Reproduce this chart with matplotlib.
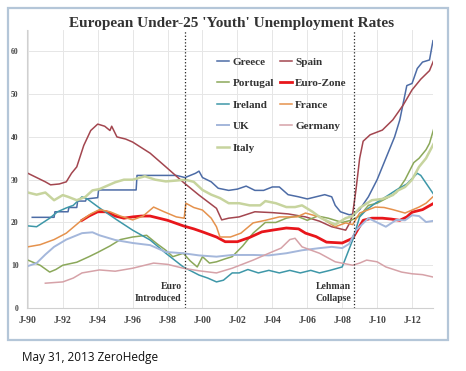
import matplotlib
matplotlib.use("Agg")
import matplotlib.pyplot as plt
from matplotlib.patches import Rectangle

# readings, decimal years / percent
greece_t = [1990.25, 1991.5, 1991.55, 1992.3, 1992.35, 1992.8, 1992.85, 1993.3, 1993.35, 1994.0, 1994.05,
            1996.2, 1996.25, 1998.5, 1999.0, 1999.3, 1999.6, 1999.8, 2000.0, 2000.5, 2000.9, 2001.5, 2002.0,
            2002.5, 2003.0, 2003.5, 2004.0, 2004.4, 2004.9, 2005.5, 2006.0, 2006.5, 2007.0, 2007.4, 2007.6,
            2007.9, 2008.4, 2008.7, 2009.0, 2009.5, 2010.0, 2010.5, 2011.0, 2011.3, 2011.7, 2012.0, 2012.3,
            2012.6, 2013.0, 2013.2]
greece_v = [21.2, 21.2, 22.5, 22.5, 23.5, 23.5, 25, 25, 25.5, 25.8, 27.6,
            27.6, 31, 31, 30.5, 31, 31.5, 32, 30.5, 29.5, 28, 27.5, 27.8,
            28.5, 27.5, 27.5, 28.3, 28.3, 26.5, 26, 25.5, 26, 26.5, 26, 24,
            22.5, 21.8, 22, 23, 26, 30, 35, 40, 44, 52, 52.5, 56,
            57.5, 58, 62.5]

spain_t = [1990.0, 1990.5, 1991.0, 1991.3, 1991.8, 1992.2, 1992.5, 1992.8, 1993.2, 1993.6, 1994.0, 1994.4,
           1994.7, 1994.8, 1995.1, 1995.6, 1996.0, 1997.0, 1997.9, 1998.9, 1999.8, 2000.8, 2001.1, 2001.5,
           2002.1, 2003.0, 2004.0, 2004.9, 2005.9, 2006.7, 2007.4, 2008.2, 2008.45, 2008.6, 2008.8, 2009.0,
           2009.2, 2009.6, 2010.3, 2010.9, 2011.5, 2012.0, 2012.5, 2013.0, 2013.25]
spain_v = [31.5, 30.5, 29.5, 28.8, 29, 29.5, 31.5, 33, 38, 41.5, 43, 42.5,
           41.5, 42.5, 40, 39.5, 38.8, 36.2, 33, 29.4, 26.4, 23.3, 20.6, 21,
           21.3, 22.5, 22.3, 22, 21.3, 20.3, 19, 18.2, 20, 22, 28, 35,
           39, 40.5, 41.6, 44, 47.5, 51, 53.5, 55.5, 58]

portugal_t = [1990.0, 1990.7, 1991.25, 1991.6, 1992.0, 1992.8, 1993.5, 1994.0, 1994.7, 1995.3, 1996.0,
              1996.8, 1997.4, 1997.9, 1998.3, 1998.9, 1999.3, 1999.7, 2000.0, 2000.4, 2000.8, 2001.3, 2001.7,
              2002.3, 2002.9, 2003.6, 2004.2, 2004.8, 2005.4, 2006.0, 2006.6, 2007.2, 2007.6, 2008.0, 2008.5,
              2009.0, 2009.5, 2010.0, 2010.7, 2011.1, 2011.6, 2012.1, 2012.4, 2012.8, 2013.0, 2013.25]
portugal_v = [11.2, 10, 8.4, 9, 10, 10.7, 12, 13, 14.5, 16, 16.6,
              17, 15, 13.5, 12, 12.8, 11, 9.6, 12, 10.5, 10.8, 11.5, 12,
              14.5, 17.5, 20, 20, 21, 21.5, 20.5, 21.5, 21, 20.5, 20, 20.5,
              21.5, 24, 24.5, 26, 27, 30, 34, 35, 37, 38.5, 42]

euro_t = [1993.1, 1993.5, 1994.0, 1994.5, 1995.0, 1995.5, 1996.0, 1996.5, 1997.0, 1997.5, 1998.0, 1998.9,
          1999.5, 2000.0, 2000.8, 2001.3, 2002.0, 2002.7, 2003.4, 2004.0, 2004.8, 2005.5, 2005.9, 2006.5,
          2007.1, 2008.0, 2008.6, 2009.2, 2009.7, 2010.3, 2010.8, 2011.3, 2011.7, 2012.0, 2012.6, 2013.25]
euro_v = [20.5, 21.5, 22.5, 22.5, 21.5, 21, 21.3, 21.5, 21.5, 21, 20.5, 19.2,
          18.5, 17.8, 16.6, 15.5, 15.5, 16.5, 17.8, 18.2, 18.7, 18.5, 17.5, 16.7,
          15.4, 15.2, 16.3, 20.5, 21, 21, 20.8, 20.5, 21.3, 22.4, 23, 24.5]

ireland_t = [1990.0, 1990.5, 1991.25, 1991.7, 1992.2, 1992.6, 1993.1, 1993.4, 1994.1, 1994.6, 1995.1, 1996.0,
             1997.0, 1997.9, 1998.9, 1999.8, 2000.3, 2000.8, 2001.2, 2001.7, 2002.1, 2002.6, 2003.2, 2003.8,
             2004.4, 2005.0, 2005.6, 2006.2, 2006.7, 2007.3, 2008.0, 2008.6, 2009.0, 2009.4, 2009.9, 2010.5,
             2011.1, 2011.7, 2012.3, 2012.5, 2012.8, 2013.25]
ireland_v = [19.2, 19, 21, 22.5, 23.4, 24, 26, 25.5, 23.4, 22, 20.6, 18.2,
             15.9, 12.8, 9.6, 7.7, 7, 6.1, 6.5, 8.2, 8.2, 9, 8.2, 8.8,
             8.2, 8.8, 8.2, 8.8, 8.2, 8.8, 9.6, 15.9, 21.3, 23, 24.5, 26,
             27.6, 29, 31.5, 31, 29.2, 26.5]

france_t = [1990.0, 1990.7, 1991.5, 1992.2, 1993.1, 1993.6, 1994.1, 1994.7, 1995.3, 1996.0, 1996.6, 1997.2,
            1997.8, 1998.5, 1998.95, 1999.05, 1999.5, 2000.0, 2000.5, 2000.8, 2001.0, 2001.6, 2002.2, 2002.9,
            2003.6, 2004.4, 2005.4, 2005.9, 2006.7, 2007.6, 2008.2, 2008.6, 2009.0, 2009.9, 2010.4, 2010.9,
            2011.6, 2012.4, 2012.8, 2013.25]
france_v = [14.3, 14.8, 16, 17.5, 20.6, 22, 23, 22.5, 21.5, 20.6, 21.5, 23.6,
            22.5, 21.3, 21, 24.5, 23.5, 22.9, 21, 19, 16.6, 16.6, 17.5, 19.9,
            20.5, 21.3, 21.3, 22.2, 21.3, 19, 19.9, 19.5, 22.2, 23.6, 23.5, 23,
            22.2, 23.6, 24.5, 26.2]

uk_t = [1990.0, 1990.5, 1991.0, 1991.5, 1992.2, 1993.1, 1993.7, 1994.1, 1995.0, 1996.0, 1997.0, 1997.9,
        1998.9, 1999.8, 2000.8, 2001.7, 2002.9, 2003.8, 2004.8, 2005.7, 2006.7, 2007.4, 2008.0, 2008.4,
        2008.8, 2009.5, 2010.0, 2010.5, 2011.1, 2011.6, 2012.0, 2012.4, 2012.8, 2013.25]
uk_v = [9.8, 10.5, 12.5, 14.3, 16, 17.5, 17.7, 17, 15.9, 15.2, 14.7, 13.1,
        12.8, 12.3, 12, 12.4, 12.4, 12.3, 12.8, 13.5, 14, 14.3, 14, 15,
        18.2, 21, 20, 19, 20.6, 20.5, 21.7, 21.5, 20.1, 20.4]

germany_t = [1991.0, 1992.0, 1992.6, 1993.1, 1994.1, 1995.0, 1996.0, 1997.2, 1998.0, 1998.9, 1999.8, 2000.8,
             2001.7, 2002.9, 2003.8, 2004.5, 2005.0, 2005.3, 2005.7, 2006.7, 2007.6, 2008.6, 2009.0, 2009.4,
             2010.0, 2010.5, 2011.4, 2012.0, 2012.6, 2013.25]
germany_v = [5.8, 6.1, 7, 8.2, 8.9, 8.6, 9.3, 10.5, 10.2, 9.3, 8.7, 8.2,
             9.3, 11.2, 12.8, 14, 16, 16.3, 14.3, 12.8, 10.8, 10, 10.5, 11.2,
             10.8, 9.6, 8.4, 8, 7.8, 7.2]

italy_t = [1990.0, 1990.5, 1991.0, 1991.5, 1992.0, 1992.3, 1992.8, 1993.3, 1993.7, 1994.1, 1995.0, 1995.5,
           1996.0, 1996.7, 1997.3, 1997.9, 1998.5, 1999.0, 1999.5, 2000.0, 2000.5, 2001.0, 2001.5, 2002.1,
           2002.7, 2003.3, 2003.6, 2004.2, 2004.8, 2005.3, 2005.7, 2006.3, 2006.8, 2007.6, 2008.2, 2008.6,
           2009.0, 2009.7, 2010.3, 2010.9, 2011.2, 2011.6, 2012.0, 2012.4, 2012.8, 2013.25]
italy_v = [27, 26.5, 27, 25.2, 26.4, 26, 25.2, 26, 27.5, 27.8, 29.4, 30,
           30, 30.8, 30, 29.6, 29.8, 30, 29.5, 27.6, 26.5, 25.7, 24.5, 24.5,
           24, 24, 25, 24.5, 23.6, 23.6, 24, 22.5, 21, 19.5, 21, 21.5,
           23.4, 25.2, 25.5, 26.4, 27.5, 28.3, 30, 33, 35, 38.5]

tick_years = [1990, 1992, 1994, 1996, 1998, 2000, 2002, 2004, 2006, 2008, 2010, 2012]
tick_labels = ['J-90', 'J-92', 'J-94', 'J-96', 'J-98', 'J-00', 'J-02', 'J-04', 'J-06', 'J-08', 'J-10', 'J-12']
euro_intro = 1999.0
lehman = 2008.7

serif = ['Liberation Serif', 'DejaVu Serif']

fig = plt.figure(figsize=(4.66, 3.71), dpi=100)
fig.patch.set_facecolor('white')
fig.patches.append(Rectangle((8 / 466, 31 / 371), 440 / 466, 332 / 371, transform=fig.transFigure,
                             facecolor='none', edgecolor='#b4c6d8', linewidth=1.6, zorder=0))

ax = fig.add_axes([27 / 466, 63 / 371, 406 / 466, 278 / 371])
ax.set_facecolor('none')

series = [
    ('Greece', greece_t, greece_v, '#4d6ca6', 1.1),
    ('Spain', spain_t, spain_v, '#a3464f', 1.1),
    ('Portugal', portugal_t, portugal_v, '#8ba85a', 1.1),
    ('Euro-Zone', euro_t, euro_v, '#e8161b', 2.0),
    ('Ireland', ireland_t, ireland_v, '#3e97a8', 1.1),
    ('France', france_t, france_v, '#e5924d', 1.1),
    ('UK', uk_t, uk_v, '#a4b7db', 1.4),
    ('Germany', germany_t, germany_v, '#d6a2a8', 1.1),
    ('Italy', italy_t, italy_v, '#c7d49e', 1.8),
]
lines = {}
for name, t, v, c, lw in series:
    ln, = ax.plot(t, v, color=c, lw=lw, label=name, solid_joinstyle='round')
    lines[name] = ln

ax.axvline(euro_intro, color='#222222', ls=':', lw=0.9)
ax.axvline(lehman, color='#222222', ls=':', lw=0.9)
ax.text(euro_intro - 0.2, 5.0, 'Euro', ha='right', va='center', fontsize=7, fontweight='bold',
        family=serif, color='#333333')
ax.text(euro_intro - 0.2, 2.3, 'Introduced', ha='right', va='center', fontsize=7, fontweight='bold',
        family=serif, color='#333333')
ax.text(lehman - 0.2, 5.0, 'Lehman', ha='right', va='center', fontsize=7, fontweight='bold',
        family=serif, color='#333333')
ax.text(lehman - 0.2, 2.3, 'Collapse', ha='right', va='center', fontsize=7, fontweight='bold',
        family=serif, color='#333333')

ax.set_xlim(1989.95, 2013.2)
ax.set_ylim(0, 65)
ax.set_xticks(tick_years)
ax.set_xticklabels(tick_labels)
ax.set_yticks([0, 10, 20, 30, 40, 50, 60])
ax.grid(True, color='#e6e6e6', lw=0.7)
ax.set_axisbelow(True)
for s in ['top', 'right']:
    ax.spines[s].set_visible(False)
for s in ['left', 'bottom']:
    ax.spines[s].set_color('#d0d0d0')
    ax.spines[s].set_linewidth(0.8)
ax.tick_params(length=0, pad=6)
for lab in ax.get_xticklabels():
    lab.set_family(serif)
    lab.set_fontweight('bold')
    lab.set_fontsize(7)
    lab.set_color('#444444')
for lab in ax.get_yticklabels():
    lab.set_family(serif)
    lab.set_fontweight('bold')
    lab.set_fontsize(5.5)
    lab.set_color('#444444')

order = ['Greece', 'Portugal', 'Ireland', 'UK', 'Italy', 'Spain', 'Euro-Zone', 'France', 'Germany']
leg = ax.legend([lines[n] for n in order], order, ncol=2, loc='upper left',
                bbox_to_anchor=(207 / 466, 1 - 47 / 371), bbox_transform=fig.transFigure,
                frameon=False, handlelength=1.1, handletextpad=0.3, columnspacing=0.5,
                labelspacing=1.05, prop={'family': serif, 'weight': 'bold', 'size': 8})
for txt in leg.get_texts():
    txt.set_color('#333333')

fig.text(232 / 466, 1 - 23 / 371, "European Under-25 'Youth' Unemployment Rates", ha='center', va='center',
         fontsize=11, fontweight='bold', family=serif, color='#333333')
fig.text(22 / 466, 1 - 358 / 371, 'May 31, 2013 ZeroHedge', ha='left', va='center', fontsize=8.5,
         family=['Open Sans', 'DejaVu Sans'], color='#111111')

fig.savefig('out.png', dpi=100, facecolor='white')
